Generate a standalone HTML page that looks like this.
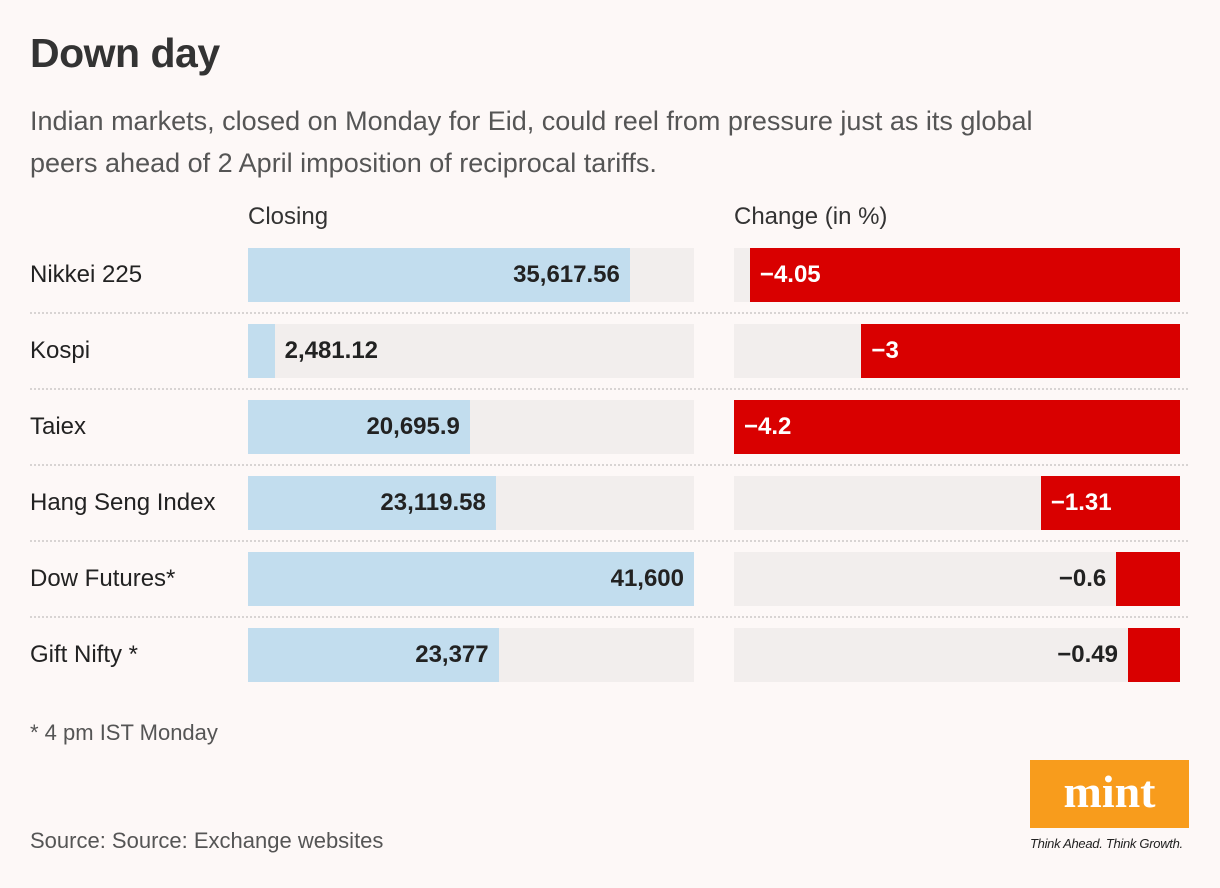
<!DOCTYPE html>
<html><head><meta charset="utf-8"><style>
body{margin:0;width:1220px;height:888px;background:#fdf8f7;font-family:"Liberation Sans",sans-serif;color:#222;position:relative;overflow:hidden}
.a{position:absolute;white-space:nowrap}
</style></head><body>
<div class="a" style="left:30px;top:30px;font-size:41px;font-weight:bold;color:#333;letter-spacing:-0.5px">Down day</div>
<div class="a" style="left:30px;top:100px;font-size:27px;line-height:42px;color:#555;white-space:normal;width:1060px">Indian markets, closed on Monday for Eid, could reel from pressure just as its global peers ahead of 2 April imposition of reciprocal tariffs.</div>
<div class="a" style="left:248px;top:203px;font-size:24px;color:#333">Closing</div>
<div class="a" style="left:734px;top:203px;font-size:24px;color:#333">Change (in %)</div>
<div id="rows"></div>
<div class="a" style="left:30px;top:720px;font-size:22px;color:#555">* 4 pm IST Monday</div>
<div class="a" style="left:30px;top:828px;font-size:22px;color:#555">Source: Source: Exchange websites</div>
<div class="a" style="left:1030px;top:760px;width:159px;height:68px;background:#f89c1c;color:#fff;font-family:'Liberation Serif',serif;font-weight:bold;font-size:46px;text-align:center;line-height:64px">mint</div>
<div class="a" style="left:1030px;top:836px;font-size:13px;font-style:italic;color:#222;letter-spacing:-0.3px">Think Ahead. Think Growth.</div>
<script>
const names=["Nikkei 225","Kospi","Taiex","Hang Seng Index","Dow Futures*","Gift Nifty *"];
const closing=[35617.56,2481.12,20695.9,23119.58,41600,23377];
const closingLabels=["35,617.56","2,481.12","20,695.9","23,119.58","41,600","23,377"];
const change=[-4.05,-3,-4.2,-1.31,-0.6,-0.49];
const changeLabels=["−4.05","−3","−4.2","−1.31","−0.6","−0.49"];
const root=document.getElementById('rows');
const W=446, cx=248, chx=734, top0=248, step=76, h=54;
const maxC=Math.max(...closing), maxCh=Math.max(...change.map(Math.abs));
function d(css,txt){const e=document.createElement('div');e.className='a';e.style.cssText=css;if(txt!=null)e.textContent=txt;root.appendChild(e);return e;}
names.forEach((n,i)=>{
 const y=top0+i*step;
 let e=d(`left:30px;top:${y}px;height:${h}px;line-height:${h}px;font-size:24px;color:#222`,n);
 
 if(i<names.length-1){e=d(`left:30px;top:${y+h+10}px;width:1158px;border-top:2px dotted #d8d4d3`);
 }
 e=d(`left:${cx}px;top:${y}px;width:${W}px;height:${h}px;background:#f2eeed`);
 
 const bw=closing[i]/maxC*W;
 e=d(`left:${cx}px;top:${y}px;width:${bw}px;height:${h}px;background:#c2ddee`);
 
 const lbl=closingLabels[i];
 if(bw>150){e=d(`left:${cx}px;width:${bw-10}px;text-align:right;top:${y}px;line-height:${h}px;font-size:24px;font-weight:bold;color:#222`,lbl);}
 else{e=d(`left:${cx+bw+10}px;top:${y}px;line-height:${h}px;font-size:24px;font-weight:bold;color:#222`,lbl);}
 
 e=d(`left:${chx}px;top:${y}px;width:${W}px;height:${h}px;background:#f2eeed`);
 
 const cw=Math.abs(change[i])/maxCh*W;
 e=d(`left:${chx+W-cw}px;top:${y}px;width:${cw}px;height:${h}px;background:#d90000`);
 
 if(cw>100){e=d(`left:${chx+W-cw+10}px;top:${y}px;line-height:${h}px;font-size:24px;font-weight:bold;color:#fff`,changeLabels[i]);}
 else{e=d(`left:${chx}px;width:${W-cw-10}px;text-align:right;top:${y}px;line-height:${h}px;font-size:24px;font-weight:bold;color:#222`,changeLabels[i]);}
 
});
</script>
</body></html>
